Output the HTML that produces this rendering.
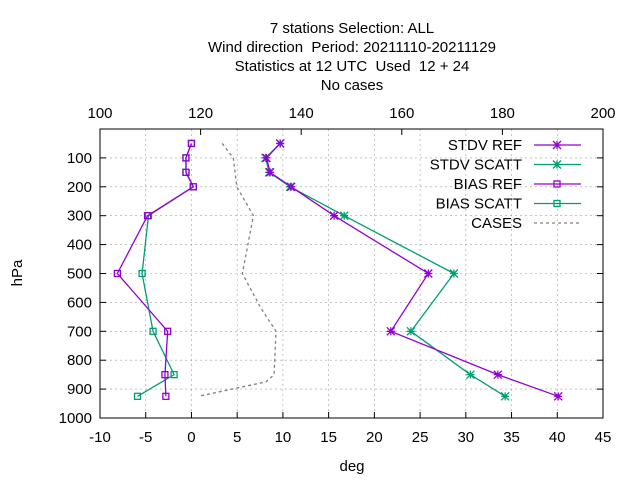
<!DOCTYPE html>
<html><head><meta charset="utf-8"><style>
body{margin:0;background:#fff;font-family:"Liberation Sans",sans-serif}
svg text{font-family:"Liberation Sans",sans-serif;font-size:15px;fill:#000;white-space:pre}
</style></head><body>
<svg id="c" width="640" height="480">
<g id="titles">
<text x="352" y="33" text-anchor="middle" xml:space="preserve">7 stations Selection: ALL</text>
<text x="352" y="52" text-anchor="middle" xml:space="preserve">Wind direction  Period: 20211110-20211129</text>
<text x="352" y="71" text-anchor="middle" xml:space="preserve">Statistics at 12 UTC  Used  12 + 24</text>
<text x="352" y="90" text-anchor="middle">No cases</text>
</g>
<text x="352" y="471" text-anchor="middle">deg</text>
<text x="22" y="273" text-anchor="middle" transform="rotate(-90 22 273)">hPa</text>
<g id="g"></g>
</svg>
<script>
const levels=[50,100,150,200,300,500,700,850,925];
const stdvRef=[9.7,8.2,8.6,10.9,15.6,25.9,21.8,33.5,40.1];
const stdvScatt=[9.7,8.1,8.5,10.8,16.7,28.7,24.0,30.5,34.3];
const biasRef=[0.0,-0.6,-0.6,0.2,-4.8,-8.1,-2.6,-2.9,-2.8];
const biasScatt=[0.0,-0.6,-0.6,0.2,-4.7,-5.4,-4.2,-1.9,-5.9];
const casesLevels=[50,100,200,300,500,620,700,850,875,925];
const cases=[124.3,126.5,127.2,130.5,128.3,132,135,134.6,133,119.5];
const xTicks=[-10,-5,0,5,10,15,20,25,30,35,40,45];
const topTicks=[100,120,140,160,180,200];
const yTicks=[100,200,300,400,500,600,700,800,900,1000];
const L=100,R=603,T=129,B=418;
const xs=v=>L+(v+10)/55*(R-L), xt=v=>L+(v-100)/100*(R-L), ys=p=>T+p/1000*(B-T);
const g=document.getElementById('g'),NS='http://www.w3.org/2000/svg';
function mk(t,a,p){const e=document.createElementNS(NS,t);for(const k in a)e.setAttribute(k,a[k]);(p||g).appendChild(e);return e;}
xTicks.forEach(v=>{const x=xs(v);
 if(v>-10&&v<45){const l=mk('line',{x1:x,x2:x,y1:T,y2:B,stroke:'#a0a0a0','stroke-dasharray':'2,3','stroke-width':0.6});}
 mk('line',{x1:x,x2:x,y1:B,y2:B-6,stroke:'#000'});
 const t=mk('text',{x:x,y:B+24,'text-anchor':'middle'});t.textContent=v;
 });
topTicks.forEach(v=>{const x=xt(v);mk('line',{x1:x,x2:x,y1:T,y2:T+6,stroke:'#000'});
 const t=mk('text',{x:x,y:T-11,'text-anchor':'middle'});t.textContent=v;
 });
yTicks.forEach(v=>{const y=ys(v);
 if(v<1000){const l=mk('line',{x1:L,x2:R,y1:y,y2:y,stroke:'#a0a0a0','stroke-dasharray':'2,3','stroke-width':0.6});}
 mk('line',{x1:L,x2:L+6,y1:y,y2:y,stroke:'#000'});mk('line',{x1:R,x2:R-6,y1:y,y2:y,stroke:'#000'});
 const t=mk('text',{x:L-8,y:y+5,'text-anchor':'end'});t.textContent=v;
 });
const fr=mk('rect',{x:L,y:T,width:R-L,height:B-T,fill:'none',stroke:'#000'});

function marker(x,y,type,c,p){if(type==='x'){mk('path',{d:`M${x-4} ${y-4}L${x+4} ${y+4}M${x-4} ${y+4}L${x+4} ${y-4}M${x} ${y-4}L${x} ${y+4}M${x-4} ${y}L${x+4} ${y}`,stroke:c,'stroke-width':1.3,fill:'none'},p);}
 else mk('rect',{x:x-3,y:y-3,width:6,height:6,fill:'none',stroke:c,'stroke-width':1.3},p);}
function series(vals,lv,fx,c,type,name,dash){const s=mk('g',{});
 mk('polyline',{points:vals.map((v,i)=>fx(v)+','+ys(lv[i])).join(' '),fill:'none',stroke:c,'stroke-width':1.3,'stroke-dasharray':dash||''},s);
 if(type)vals.forEach((v,i)=>marker(fx(v),ys(lv[i]),type,c,s));}
const P='#9400d3',G='#009e73';
series(cases,casesLevels,xt,'#808080',null,'series-cases','3,3');
series(stdvScatt,levels,xs,G,'x','series-stdv-scatt');
series(stdvRef,levels,xs,P,'x','series-stdv-ref');
series(biasScatt,levels,xs,G,'s','series-bias-scatt');
series(biasRef,levels,xs,P,'s','series-bias-ref');
const leg=[['STDV REF',P,'x',''],['STDV SCATT',G,'x',''],['BIAS REF',P,'s',''],['BIAS SCATT',G,'s',''],['CASES','#808080',null,'3,3']];
leg.forEach((e,i)=>{const y=145+i*19.5;const lg=mk('g',{});
 const t=mk('text',{x:522,y:y+5,'text-anchor':'end'},lg);t.textContent=e[0];
 mk('line',{x1:534,x2:581,y1:y,y2:y,stroke:e[1],'stroke-width':1.3,'stroke-dasharray':e[3]},lg);
 if(e[2])marker(557,y,e[2],e[1],lg);});
</script>
</body></html>
